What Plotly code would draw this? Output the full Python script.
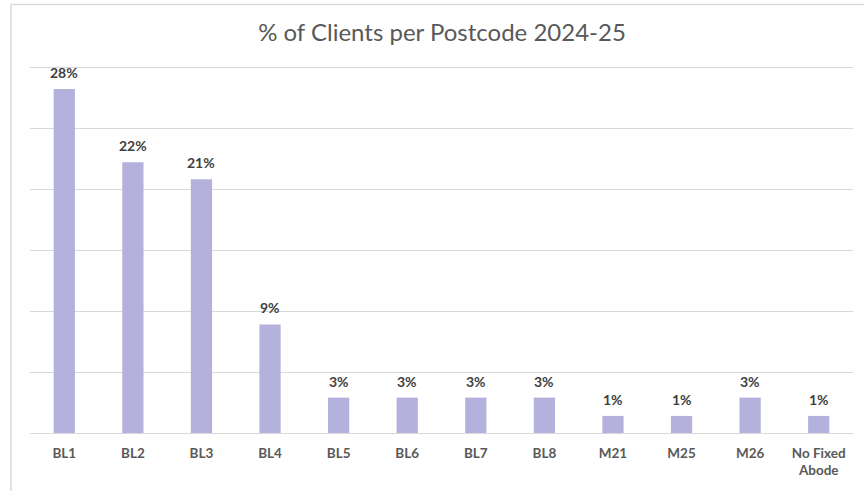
import plotly.graph_objects as go

categories = ["BL1", "BL2", "BL3", "BL4", "BL5", "BL6", "BL7", "BL8", "M21", "M25", "M26", "No Fixed<br>Abode"]
values = [28.2, 22.2, 20.8, 8.9, 2.9, 2.9, 2.9, 2.9, 1.4, 1.4, 2.9, 1.4]
labels = [f"{round(v)}%" for v in values]

fig = go.Figure()
fig.add_trace(go.Bar(
    x=categories, y=values,
    marker=dict(color="#b4b2dc", line=dict(width=0)),
    hoverinfo="skip",
))

for c, v, t in zip(categories, values, labels):
    fig.add_annotation(x=c, y=v, text=t, showarrow=False, yanchor="bottom", yshift=6,
                       font=dict(family="Lato", size=14, color="#404040", weight="bold"))

H = 491 - 63 - 58
fig.update_layout(
    width=864, height=491,
    margin=dict(l=30, r=11, t=63, b=58),
    paper_bgcolor="white", plot_bgcolor="white",
    bargap=0.69,
    showlegend=False,
    title=dict(text="% of Clients per Postcode 2024-25", x=442/864, xanchor="center",
               y=1 - 33/491, yanchor="middle",
               font=dict(family="Lato", size=24, color="#595959")),
    xaxis=dict(showgrid=False, showline=False, zeroline=False, ticks="",
               automargin=False, ticklabelstandoff=10,
               tickfont=dict(family="Lato", size=13.5, color="#595959", weight="bold")),
    yaxis=dict(range=[0, 30.33], tickvals=[5, 10, 15, 20, 25, 30], showgrid=True,
               gridcolor="#d9d9d9", gridwidth=1, automargin=False,
               showticklabels=False, zeroline=True, zerolinecolor="#d9d9d9", zerolinewidth=1,
               showline=False, ticks=""),
    shapes=[dict(type="rect", xref="paper", yref="paper",
                 x0=-19/823, x1=1.2, y0=-0.5, y1=(433 - 4.5) / H,
                 line=dict(color="#d9d9d9", width=1.5), fillcolor="rgba(0,0,0,0)", layer="below")],
)

fig.write_html("out.html", config={"displayModeBar": False},
               post_script="document.body.style.margin='0';")
